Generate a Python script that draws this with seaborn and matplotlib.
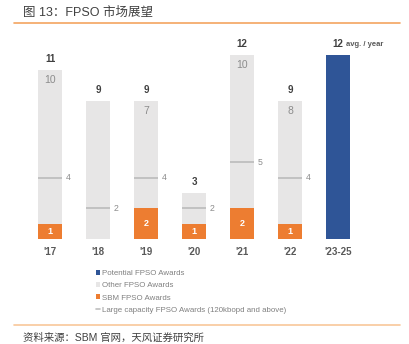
import matplotlib
matplotlib.use("Agg")
import matplotlib.pyplot as plt
import seaborn as sns
import pandas as pd
from matplotlib.lines import Line2D
from matplotlib.patches import Patch

sns.set_theme(style="white")
plt.rcParams['font.family'] = ['Liberation Sans', 'Noto Sans CJK SC', 'DejaVu Sans']

years = ["'17", "'18", "'19", "'20", "'21", "'22", "'23-25"]
sbm = [1, 0, 2, 1, 2, 1, 0]
other = [10, 9, 7, 2, 10, 8, 0]
potential = [0, 0, 0, 0, 0, 0, 12]
totals = [11, 9, 9, 3, 12, 9, 12]
large_cap = [4, 2, 4, 2, 5, 4, None]
other_labels = ["10", "", "7", "", "10", "8", ""]

C_ORANGE = "#ED7D31"
C_GREY = "#E7E6E6"
C_NAVY = "#2F5597"
C_LINE = "#BFBFBF"

df = pd.DataFrame({"year": years, "sbm": sbm, "other": other, "potential": potential})

fig = plt.figure(figsize=(4.09, 3.44), dpi=100)
ax = fig.add_axes([0.0636, 0.3052, 0.8215, 0.5794])

W = 0.52
sns.barplot(data=df, x="year", y="sbm", order=years, color=C_ORANGE, width=W,
            saturation=1, ax=ax, edgecolor="none")
sns.barplot(data=df, x="year", y="other", order=years, color=C_GREY, width=W,
            saturation=1, ax=ax, bottom=df["sbm"], edgecolor="none")
sns.barplot(data=df, x="year", y="potential", order=years, color=C_NAVY, width=W,
            saturation=1, ax=ax, edgecolor="none")

for i, y in enumerate(years):
    if sbm[i] > 0:
        ax.text(i, sbm[i] / 2, str(sbm[i]), ha="center", va="center",
                color="white", fontsize=6.5, fontweight="bold")
    if other_labels[i]:
        ax.text(i, totals[i] - 0.65, other_labels[i], ha="center", va="center",
                color="#8C8C8C", fontsize=7.5)
    lc = large_cap[i]
    if lc is not None:
        ax.hlines(lc, i - W / 2, i + W / 2, color=C_LINE, lw=1.3)
        ax.text(i + W / 2 + 0.06, lc, str(lc), ha="left", va="center",
                color="#8C8C8C", fontsize=6.3)
    ax.text(i, totals[i] + 0.75, str(totals[i]), ha="center", va="center",
            color="#404040", fontsize=7, fontweight="bold")

ax.text(len(years) - 1 + 0.17, totals[-1] + 0.7, "avg. / year", ha="left", va="center",
        color="#595959", fontsize=5.5, fontweight="bold")

ax.set_xlim(-0.5, 6.5)
ax.set_ylim(0, 13)
ax.set_xlabel("")
ax.set_ylabel("")
ax.set_yticks([])
ax.tick_params(axis="x", length=0, pad=6, labelsize=7, labelcolor="#595959")
for lbl in ax.get_xticklabels():
    lbl.set_fontweight("bold")
for s in ax.spines.values():
    s.set_visible(False)

handles = [
    Patch(facecolor=C_NAVY, edgecolor="none", label="Potential FPSO Awards"),
    Patch(facecolor=C_GREY, edgecolor="none", label="Other FPSO Awards"),
    Patch(facecolor=C_ORANGE, edgecolor="none", label="SBM FPSO Awards"),
    Line2D([0], [0], color=C_LINE, lw=1.2, label="Large capacity FPSO Awards (120kbopd and above)"),
]
leg = fig.legend(handles=handles, loc="upper left", bbox_to_anchor=(0.225, 0.227),
                 frameon=False, fontsize=5.7, handlelength=0.55, handleheight=0.6,
                 handletextpad=0.25, labelspacing=0.62, borderpad=0, labelcolor="#808080")

fig.text(0.056, 0.963, "图 13：FPSO 市场展望", fontsize=9, color="#404040",
         ha="left", va="center")
fig.add_artist(Line2D([0.034, 0.978], [0.934, 0.934], color="#F4A460", lw=1.2,
                      transform=fig.transFigure))
fig.add_artist(Line2D([0.034, 0.978], [0.056, 0.056], color="#F8C79A", lw=1.2,
                      transform=fig.transFigure))
fig.text(0.056, 0.018, "资料来源：SBM 官网，天风证券研究所", fontsize=7.5, color="#404040",
         ha="left", va="center")

fig.savefig("out.png", dpi=100)
